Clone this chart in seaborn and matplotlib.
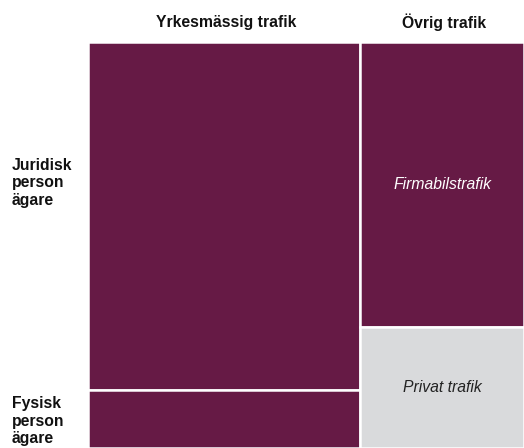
import matplotlib
matplotlib.use("Agg")
import matplotlib.pyplot as plt
import seaborn as sns
import numpy as np

columns = ["Yrkesmässig trafik", "Övrig trafik"]
col_share = [62.4, 37.6]
rows = ["Juridisk\nperson\nägare", "Fysisk\nperson\nägare"]
juridisk_share = [85.6, 70.2]
fysisk_share = [14.4, 29.8]
inner_labels = ["", "Firmabilstrafik"]
inner_labels2 = ["", "Privat trafik"]

sns.set_theme(style="white")
plt.rcParams['font.family'] = ['Liberation Sans', 'DejaVu Sans']

W, H = 524, 448
fig = plt.figure(figsize=(W/100, H/100), dpi=100)
ax = fig.add_axes([88/W, 0, 1-88/W, (H-42)/H])

purple = "#661a45"
gray = "#d9dadc"

lefts = np.concatenate([[0], np.cumsum(col_share)[:-1]])
ax.bar(lefts, juridisk_share, width=col_share, bottom=0, align="edge",
       color=purple, edgecolor="white", linewidth=1.8)
ax.bar(lefts, fysisk_share, width=col_share, bottom=juridisk_share, align="edge",
       color=[purple, gray], edgecolor="white", linewidth=1.8)
ax.set_xlim(0, 100)
ax.set_ylim(100, 0)
ax.axis("off")

l, w = lefts[1], col_share[1]
ax.text(l + w/2, juridisk_share[1]/2, inner_labels[1], color="white",
        style="italic", ha="center", va="center", fontsize=11.3)
ax.text(l + w/2, juridisk_share[1] + fysisk_share[1]/2, inner_labels2[1], color="#222222",
        style="italic", ha="center", va="center", fontsize=11.3)

col_centers_px = [226, 444]
for c, x in zip(columns, col_centers_px):
    fig.text(x/W, 1-22/H, c, ha="center", va="center", fontsize=11.3,
             fontweight="bold", color="#111111")
fig.text(12/W, 1-183/H, rows[0], ha="left", va="center", fontsize=11.3,
         fontweight="bold", color="#111111", linespacing=1.22)
fig.text(12/W, 1-421/H, rows[1], ha="left", va="center", fontsize=11.3,
         fontweight="bold", color="#111111", linespacing=1.22)

fig.savefig("out.png", dpi=100)
